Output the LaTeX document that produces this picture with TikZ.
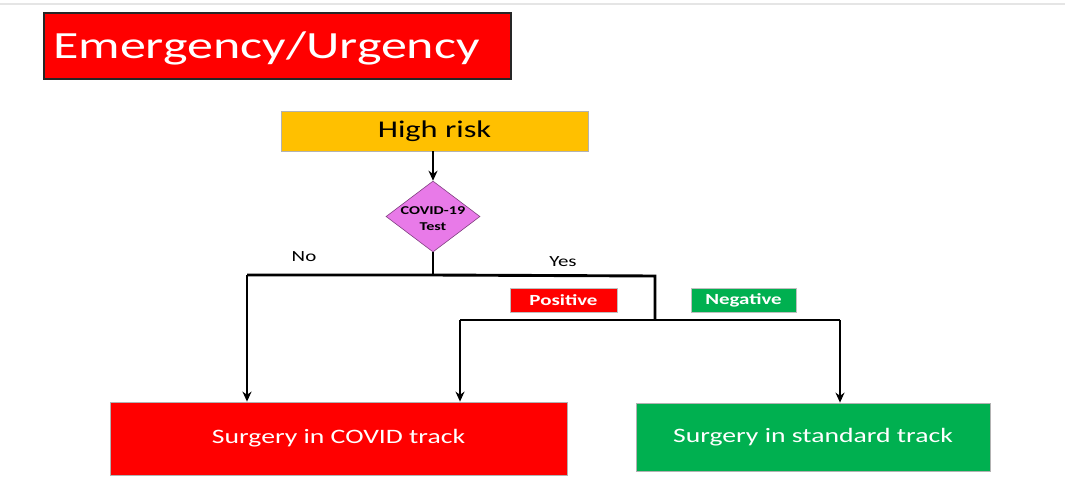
\documentclass[tikz,border=0pt]{standalone}
\usepackage{fontspec}
\setmainfont{Carlito}
\newfontfamily\wide[FakeStretch=1.35]{Carlito}
\usetikzlibrary{shapes.geometric,arrows.meta}
\definecolor{myred}{HTML}{FF0000}
\definecolor{mygreen}{HTML}{00B050}
\definecolor{mygold}{HTML}{FFC000}
\definecolor{myviolet}{HTML}{E87AE8}
\tikzset{
  box/.style={draw=gray!60, line width=0.8pt, inner sep=0pt, font=\wide},
  arr/.style={line width=2.9pt, -{Stealth[length=10pt,width=9pt]}},
  ln/.style={line width=2.9pt},
  tag/.style={draw=gray!50, line width=0.6pt, inner sep=0pt, minimum height=24pt, text=white, font=\wide\bfseries\fontsize{15.5}{17}\selectfont},
  lbl/.style={inner sep=0pt, font=\wide\fontsize{15.5}{17}\selectfont}
}
\begin{document}
\begin{tikzpicture}[x=1pt,y=-1pt]
\useasboundingbox (0,0) rectangle (1065,485);
\draw[line width=1.5pt, gray!20] (0,4) -- (1065,4);
% title
\node[draw=black!85, line width=1.2pt, fill=myred, minimum width=467pt, minimum height=66pt, inner sep=0pt] (title) at (277.5,46) {};
\node[anchor=west, inner sep=0pt, text=white, font=\wide\fontsize{38.5}{40}\selectfont] (titletext) at (53,48) {Emergency/Urgency};
% high risk
\node[box, fill=mygold, minimum width=307pt, minimum height=40pt, font=\wide\fontsize{24}{26}\selectfont] (risk) at (434.5,131) {\raisebox{-2pt}{High risk}};
% diamond
\node[diamond, draw=violet!50!gray, line width=0.6pt, fill=myviolet, minimum width=94pt, minimum height=71pt, inner sep=0pt] (test) at (433,216.5) {};
\node[align=center, inner sep=0pt, font=\wide\fontsize{12}{16}\selectfont\bfseries] (testtext) at (433,219) {COVID-19\\Test};
% coordinates
\coordinate (j) at (433,275);
\coordinate (jl) at (247,275);
\coordinate (jr) at (655,276);
\coordinate (k) at (655,320);
\coordinate (kl) at (460,320);
\coordinate (kr) at (840,320);
% bottom boxes
\node[box, fill=myred, text=white, minimum width=457pt, minimum height=73pt, font=\wide\fontsize{20.5}{22}\selectfont] (covid) at (338.5,438.5) {Surgery in COVID track};
\node[box, fill=mygreen, text=white, minimum width=354pt, minimum height=68pt, font=\wide\fontsize{20.5}{22}\selectfont] (std) at (813,437) {Surgery in standard track};
% tags
\node[tag, fill=myred, minimum width=107pt] (pos) at (563.5,300) {Positive};
\node[tag, fill=mygreen, minimum width=105pt] (neg) at (743.5,300) {Negative};
% labels
\node[lbl] (no) at (304,257) {No};
\node[lbl] (yes) at (563,262) {Yes};
% connectors
\draw[arr] (risk.south -| test.north) -- (test.north);
\draw[ln] (test.south) -- (j);
\draw[ln] (jl) -- (j) -- (jr) -- (k);
\draw[ln] (kl) -- (kr);
\draw[arr] (jl) -- (jl |- covid.north);
\draw[arr] (kl) -- (kl |- covid.north);
\draw[arr] (kr) -- (kr |- std.north);
\end{tikzpicture}
\end{document}
